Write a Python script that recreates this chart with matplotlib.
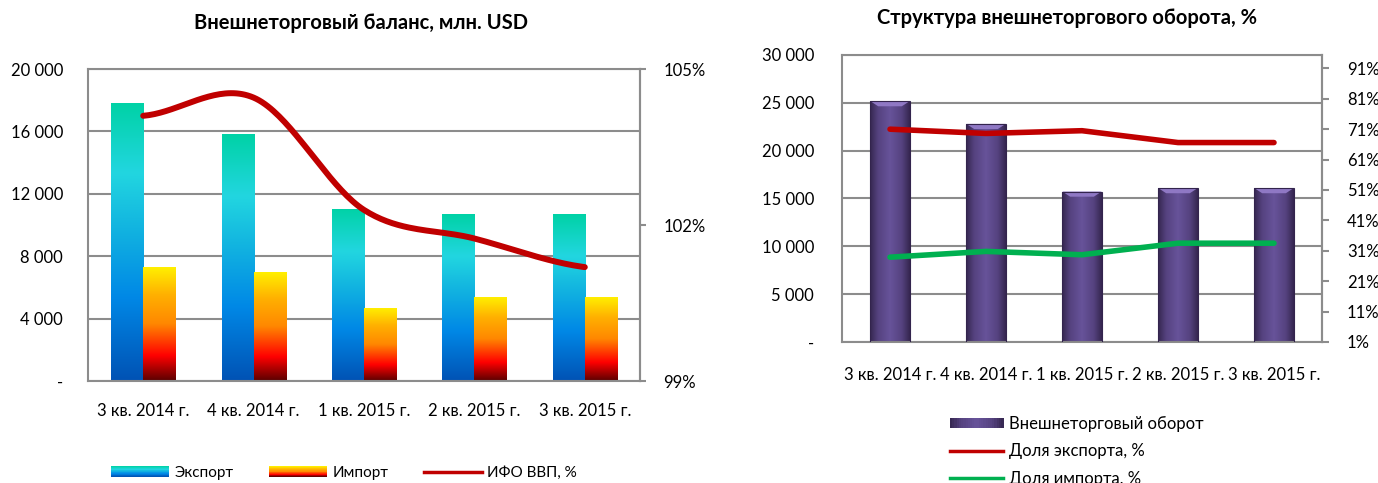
import numpy as np
import matplotlib
matplotlib.use('Agg')
import matplotlib.pyplot as plt
from matplotlib.colors import LinearSegmentedColormap
from matplotlib.legend_handler import HandlerBase
from matplotlib.patches import Rectangle, Polygon
from matplotlib.lines import Line2D
from matplotlib.ticker import FuncFormatter

plt.rcParams['font.family'] = ['Lato', 'DejaVu Sans']
plt.rcParams['font.size'] = 12

# data
quarters = ['3 кв. 2014 г.', '4 кв. 2014 г.', '1 кв. 2015 г.', '2 кв. 2015 г.', '3 кв. 2015 г.']
export = [17820, 15830, 11030, 10700, 10700]          # млн. USD
imports = [7310, 6990, 4680, 5390, 5390]              # млн. USD
ifo_gdp = [104.10, 104.45, 102.29, 101.74, 101.19]    # %
turnover = [25180, 22800, 15730, 16090, 16090]        # млн. USD
export_share = [71.0, 69.6, 70.5, 66.6, 66.6]         # %
import_share = [28.9, 30.8, 29.7, 33.5, 33.5]         # %

left_ticks = [0, 4000, 8000, 12000, 16000, 20000]
left_pct_ticks = [99, 102, 105]
right_ticks = [0, 5000, 10000, 15000, 20000, 25000, 30000]
right_pct_ticks = [1, 11, 21, 31, 41, 51, 61, 71, 81, 91]

GRID = '#8c8c8c'
export_cmap = LinearSegmentedColormap.from_list('exp', [
    (0.0, '#0052b4'), (0.3, '#0088e6'), (0.55, '#12b4e0'),
    (0.75, '#22d6e0'), (1.0, '#00d2a6')])
import_cmap = LinearSegmentedColormap.from_list('imp', [
    (0.0, '#5a0000'), (0.22, '#ff0000'), (0.5, '#ff8800'),
    (0.75, '#ffb000'), (1.0, '#fff200')])
purple_cmap = LinearSegmentedColormap.from_list('pur', [
    (0.0, '#35264f'), (0.2, '#55427f'), (0.5, '#67539a'),
    (0.8, '#55427f'), (1.0, '#35264f')])


def thousands(v, pos=None):
    if v == 0:
        return '-'
    return f'{int(v):,}'.replace(',', ' ')


def fill_gradient(ax, bars, cmap, horizontal=False):
    if horizontal:
        grad = np.linspace(0, 1, 256).reshape(1, -1)
    else:
        grad = np.linspace(0, 1, 256).reshape(-1, 1)
    for b in bars:
        x0, y0 = b.get_x(), b.get_y()
        w, h = b.get_width(), b.get_height()
        im = ax.imshow(grad, cmap=cmap, origin='lower', aspect='auto',
                       extent=(x0, x0 + w, y0, y0 + h),
                       zorder=b.get_zorder(), interpolation='bicubic')
        im.set_clip_path(b)


def catmull_rom(xs, ys, n=40):
    xs = np.asarray(xs, float)
    ys = np.asarray(ys, float)
    px = np.concatenate([[2 * xs[0] - xs[1]], xs, [2 * xs[-1] - xs[-2]]])
    py = np.concatenate([[ys[0]], ys, [ys[-1]]])
    out_x, out_y = [], []
    t = np.linspace(0, 1, n)
    for i in range(1, len(px) - 2):
        for p, out in ((px, out_x), (py, out_y)):
            m1 = (p[i + 1] - p[i - 1]) / 2
            m2 = (p[i + 2] - p[i]) / 2
            h00 = 2 * t**3 - 3 * t**2 + 1
            h10 = t**3 - 2 * t**2 + t
            h01 = -2 * t**3 + 3 * t**2
            h11 = t**3 - t**2
            out.extend(h00 * p[i] + h10 * m1 + h01 * p[i + 1] + h11 * m2)
    return out_x, out_y


class GradientHandler(HandlerBase):
    def __init__(self, cmap, vertical=True):
        super().__init__()
        self.cmap = cmap
        self.vertical = vertical

    def create_artists(self, legend, orig_handle, xdescent, ydescent,
                       width, height, fontsize, trans):
        n = 24
        arts = []
        for i in range(n):
            if self.vertical:
                r = Rectangle((-xdescent, -ydescent + i * height / n), width, height / n + 0.3,
                              facecolor=self.cmap((i + 0.5) / n), edgecolor='none', transform=trans)
            else:
                r = Rectangle((-xdescent + i * width / n, -ydescent), width / n + 0.3, height,
                              facecolor=self.cmap((i + 0.5) / n), edgecolor='none', transform=trans)
            arts.append(r)
        return arts


def style_axes(ax):
    for s in ax.spines.values():
        s.set_color(GRID)
        s.set_linewidth(1.5)
    ax.yaxis.grid(True, color=GRID, linewidth=1.5)
    ax.set_axisbelow(True)


def style_right(axr, tick_len):
    axr.tick_params(axis='y', length=tick_len, width=1.5, color=GRID, pad=13)
    for s in axr.spines.values():
        s.set_visible(False)
    axr.spines['right'].set_visible(True)
    axr.spines['right'].set_color(GRID)
    axr.spines['right'].set_linewidth(1.5)
    axr.yaxis.set_major_formatter(FuncFormatter(lambda v, p: f'{v:.0f}%'))


fig = plt.figure(figsize=(13.78, 4.83), dpi=100)
W, H = 1378, 483

# ---------------- left chart ----------------
ax1 = fig.add_axes([88 / W, 1 - 381 / H, 552 / W, 312 / H])
x = np.arange(len(quarters))
bw = 0.29
b_exp = ax1.bar(x - bw / 2, export, bw, facecolor='none', edgecolor='none', zorder=2)
b_imp = ax1.bar(x + bw / 2, imports, bw, facecolor='none', edgecolor='none', zorder=2)
fill_gradient(ax1, b_exp, export_cmap)
fill_gradient(ax1, b_imp, import_cmap)
ax1.set_xlim(-0.5, len(quarters) - 0.5)
ax1.set_ylim(0, 20000)
ax1.set_yticks(left_ticks)
ax1.yaxis.set_major_formatter(FuncFormatter(thousands))
ax1.set_xticks(x)
ax1.set_xticklabels(quarters)
ax1.tick_params(axis='y', length=0, pad=18)
ax1.tick_params(axis='x', length=0, pad=16)
style_axes(ax1)

ax1r = ax1.twinx()
sx, sy = catmull_rom(x, ifo_gdp)
ax1r.plot(sx, sy, color='#c00000', linewidth=4.3, solid_capstyle='round', zorder=3)
ax1r.set_ylim(99, 105)
ax1r.set_yticks(left_pct_ticks)
style_right(ax1r, 4)

ax1.set_title('Внешнеторговый баланс, млн. USD', fontsize=14.5, fontweight='bold',
              x=(361 - 88) / 552, y=1.0, pad=29)

h_exp = Rectangle((0, 0), 1, 1)
h_imp = Rectangle((0, 0), 1, 1)
h_ifo = Line2D([], [], color='#c00000', linewidth=2.5)
fig.legend([h_exp, h_imp, h_ifo], ['Экспорт', 'Импорт', 'ИФО ВВП, %'],
           handler_map={h_exp: GradientHandler(export_cmap), h_imp: GradientHandler(import_cmap)},
           ncol=3, frameon=False, loc='center', bbox_to_anchor=(344 / W, 1 - 473 / H),
           handlelength=3.8, handleheight=0.65, handletextpad=0.35,
           columnspacing=2.3, fontsize=11)

# ---------------- right chart ----------------
ax2 = fig.add_axes([842 / W, 1 - 342 / H, 480 / W, 287 / H])
pw = 0.41
b_tur = ax2.bar(x, turnover, pw, facecolor='none', edgecolor='none', zorder=2)
fill_gradient(ax2, b_tur, purple_cmap, horizontal=True)
ax2.set_xlim(-0.5, len(quarters) - 0.5)
ax2.set_ylim(0, 30000)
bev = 0.018 * 30000
for b in b_tur:
    x0, w, top = b.get_x(), b.get_width(), b.get_height()
    ax2.add_patch(Polygon([(x0, top), (x0 + w, top), (x0 + 0.8 * w, top - bev), (x0 + 0.2 * w, top - bev)],
                          closed=True, facecolor='#8f78c4', edgecolor='none', zorder=2.5))
    ax2.add_patch(Rectangle((x0, 0), w, top, facecolor='none', edgecolor='#33244d',
                            linewidth=0.8, zorder=2.6))
ax2.set_yticks(right_ticks)
ax2.yaxis.set_major_formatter(FuncFormatter(thousands))
ax2.set_xticks(x)
ax2.set_xticklabels(quarters)
ax2.tick_params(axis='y', length=0, pad=20)
ax2.tick_params(axis='x', length=0, pad=18)
style_axes(ax2)

ax2r = ax2.twinx()
ax2r.plot(x, export_share, color='#c00000', linewidth=4.0, solid_capstyle='round',
          solid_joinstyle='round', zorder=3)
ax2r.plot(x, import_share, color='#00b050', linewidth=4.0, solid_capstyle='round',
          solid_joinstyle='round', zorder=3)
ax2r.set_ylim(1, 95.4)
ax2r.set_yticks(right_pct_ticks)
style_right(ax2r, 5)

ax2.set_title('Структура внешнеторгового оборота, %', fontsize=14.5, fontweight='bold',
              x=(1067 - 842) / 480, y=1.0, pad=22)

h_tur = Rectangle((0, 0), 1, 1)
h_exs = Line2D([], [], color='#c00000', linewidth=2.5)
h_ims = Line2D([], [], color='#00b050', linewidth=2.5)
fig.legend([h_tur, h_exs, h_ims],
           ['Внешнеторговый оборот', 'Доля экспорта, %', 'Доля импорта, %'],
           handler_map={h_tur: GradientHandler(purple_cmap, vertical=False)},
           ncol=1, frameon=False, loc='upper left', borderaxespad=0, borderpad=0,
           bbox_to_anchor=(950 / W, 1 - 416 / H),
           handlelength=3.2, handleheight=0.55, handletextpad=0.35,
           labelspacing=0.68, fontsize=12)

fig.savefig('out.png', dpi=100)
